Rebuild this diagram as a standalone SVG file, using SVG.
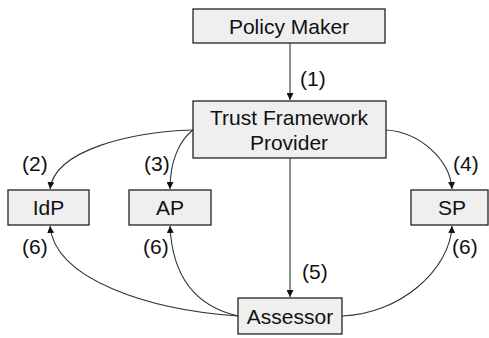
<svg xmlns="http://www.w3.org/2000/svg" width="489" height="338" viewBox="0 0 489 338">
  <defs>
    <pattern id="stipple" width="2" height="2" patternUnits="userSpaceOnUse">
      <rect width="2" height="2" fill="#f3f3f3"/>
      <rect width="1" height="1" fill="#e8e8e8"/>
      <rect x="1" y="1" width="1" height="1" fill="#ececec"/>
    </pattern>
    <marker id="arrow" viewBox="0 0 10 10" refX="10" refY="5" markerWidth="7" markerHeight="7" markerUnits="userSpaceOnUse" orient="auto">
      <path d="M0,0 L10,5 L0,10 z" fill="#111"/>
    </marker>
  </defs>
  <style>
    .box { fill: url(#stipple); stroke: #222; stroke-width: 1.3; }
    .label { font-family: "Liberation Sans", Arial, sans-serif; font-size: 21px; fill: #111; }
    .mid { text-anchor: middle; }
    .edge { fill: none; stroke: #333; stroke-width: 1.1; marker-end: url(#arrow); }
  </style>

  <rect width="489" height="338" fill="#fff"/>

  <g id="connectors">
    <path class="edge" d="M290,43 L290,100"/>
    <path class="edge" d="M193,130 C130,132 55,150 50,189"/>
    <path class="edge" d="M193,130 C180,140 170,160 170,189"/>
    <path class="edge" d="M386,130 C420,132 450,160 452,189"/>
    <path class="edge" d="M290,158 L290,297"/>
    <path class="edge" d="M238,316 C150,310 55,280 50,226"/>
    <path class="edge" d="M238,316 C190,305 172,270 170,226"/>
    <path class="edge" d="M342,316 C400,314 450,270 452,226"/>
    <text class="label" x="300" y="86">(1)</text>
    <text class="label" x="22" y="171">(2)</text>
    <text class="label" x="144" y="171">(3)</text>
    <text class="label" x="453" y="171">(4)</text>
    <text class="label" x="302" y="279">(5)</text>
    <text class="label" x="22" y="254">(6)</text>
    <text class="label" x="143" y="254">(6)</text>
    <text class="label" x="452" y="254">(6)</text>
  </g>

  <g id="policy-maker">
    <rect class="box" x="193" y="9" width="192" height="34"/>
    <text class="label mid" x="289" y="34">Policy Maker</text>
  </g>

  <g id="trust-framework-provider">
    <rect class="box" x="193" y="101" width="193" height="57"/>
    <text class="label mid" x="289" y="125">Trust Framework</text>
    <text class="label mid" x="289" y="150">Provider</text>
  </g>

  <g id="idp">
    <rect class="box" x="8" y="190" width="81" height="35"/>
    <text class="label mid" x="48.5" y="215">IdP</text>
  </g>

  <g id="ap">
    <rect class="box" x="129" y="190" width="82" height="35"/>
    <text class="label mid" x="170" y="215">AP</text>
  </g>

  <g id="sp">
    <rect class="box" x="411" y="190" width="77" height="35"/>
    <text class="label mid" x="452" y="215">SP</text>
  </g>

  <g id="assessor">
    <rect class="box" x="238" y="298" width="104" height="36"/>
    <text class="label mid" x="290" y="324">Assessor</text>
  </g>
</svg>
